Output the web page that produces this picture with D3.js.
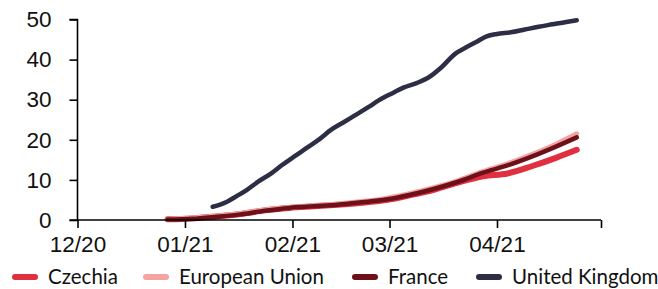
<!DOCTYPE html>
<html>
<head>
<meta charset="utf-8">
<script src="https://cdn.jsdelivr.net/npm/d3@7"></script>
<style>
  body { margin: 0; background: #fff; }
  svg { display: block; font-family: Lato, "Noto Sans", sans-serif; }
</style>
</head>
<body>
<svg width="658" height="289"></svg>
<script>
// dates shared by the three red series
var euDates = ["2020-12-27", "2021-01-03", "2021-01-10", "2021-01-17", "2021-01-24", "2021-01-31",
  "2021-02-07", "2021-02-14", "2021-02-21", "2021-02-28", "2021-03-07", "2021-03-14",
  "2021-03-21", "2021-03-28", "2021-04-04", "2021-04-11", "2021-04-18", "2021-04-24"];
var czechia = [0.2, 0.4, 0.9, 1.5, 2.4, 3.0, 3.4, 3.8, 4.3, 5.0, 6.2, 7.6, 9.4, 10.9, 11.6, 13.4, 15.5, 17.5];
var eu      = [0.2, 0.5, 1.0, 1.6, 2.5, 3.1, 3.6, 4.0, 4.6, 5.4, 6.6, 8.1, 9.9, 12.1, 14.0, 16.3, 18.9, 21.5];
var france  = [0.1, 0.3, 0.8, 1.4, 2.3, 3.0, 3.4, 3.8, 4.4, 5.1, 6.3, 7.8, 9.6, 11.8, 13.6, 15.8, 18.3, 20.6];

var ukDates = ["2021-01-09", "2021-01-13", "2021-01-16", "2021-01-19", "2021-01-22", "2021-01-26",
  "2021-01-29", "2021-02-02", "2021-02-05", "2021-02-09", "2021-02-12", "2021-02-16",
  "2021-02-19", "2021-02-23", "2021-02-26", "2021-03-02", "2021-03-05", "2021-03-09",
  "2021-03-12", "2021-03-16", "2021-03-20", "2021-03-23", "2021-03-26", "2021-03-29",
  "2021-04-01", "2021-04-05", "2021-04-09", "2021-04-13", "2021-04-17", "2021-04-21", "2021-04-24"];
var uk = [3.3, 4.5, 6.0, 7.6, 9.5, 11.7, 13.7, 16.1, 17.9, 20.3, 22.4, 24.5, 26.1, 28.2, 29.9,
  31.7, 33.0, 34.2, 35.4, 38.1, 41.5, 43.0, 44.4, 45.8, 46.4, 46.8, 47.5, 48.2, 48.8, 49.4, 49.8];

var seriesNames = ["Czechia", "European Union", "France", "United Kingdom"];
var colors = ["#e0303f", "#f4a3a3", "#6e1019", "#2b2e44"];
var yTicks = [0, 10, 20, 30, 40, 50];

var parse = d3.timeParse("%Y-%m-%d");
var series = [
  { name: seriesNames[0], dates: euDates, values: czechia, width: 6 },
  { name: seriesNames[1], dates: euDates, values: eu, width: 5 },
  { name: seriesNames[2], dates: euDates, values: france, width: 4.5 },
  { name: seriesNames[3], dates: ukDates, values: uk, width: 4.5 }
];
series.forEach(function(s, i) {
  s.color = colors[i];
  s.points = s.dates.map(function(d, j) { return { date: parse(d), value: s.values[j] }; });
});

var svg = d3.select("svg");
var x = d3.scaleTime()
    .domain([parse("2020-12-01"), parse("2021-05-01")])
    .range([77.5, 601]);
var y = d3.scaleLinear()
    .domain([0, 50])
    .range([220, 19.5]);

var line = d3.line()
    .x(function(d) { return x(d.date); })
    .y(function(d) { return y(d.value); })
    .curve(d3.curveMonotoneX);

svg.append("g")
    .selectAll("path")
    .data(series)
    .enter().append("path")
    .attr("fill", "none")
    .attr("stroke", function(d) { return d.color; })
    .attr("stroke-width", function(d) { return d.width; })
    .attr("stroke-linecap", "round")
    .attr("stroke-linejoin", "round")
    .attr("d", function(d) { return line(d.points); });

var yAxis = svg.append("g")
    .attr("transform", "translate(77.5,0)")
    .call(d3.axisLeft(y).tickValues(yTicks).tickSize(8).tickPadding(18));

var xAxis = svg.append("g")
    .attr("transform", "translate(0,220)")
    .call(d3.axisBottom(x).ticks(d3.timeMonth.every(1)).tickFormat(function(d) {
      // last tick has no label
      return +d === +x.domain()[1] ? "" : d3.timeFormat("%m/%y")(d);
    }).tickSize(8).tickPadding(8));

svg.selectAll(".domain, .tick line")
    .attr("stroke", "#000")
    .attr("stroke-width", 1.6);
yAxis.select(".domain").attr("d", "M-8,19.5H0V220H-8");
xAxis.select(".domain").attr("d", "M77.5,0H601");
svg.selectAll(".tick text")
    .attr("fill", "#111")
    .style("font-size", "22.5px");

// legend
var legendX = [12, 143, 352, 476];
var legend = svg.append("g")
    .selectAll("g")
    .data(series)
    .enter().append("g")
    .attr("transform", function(d, i) { return "translate(" + legendX[i] + ",277)"; });
legend.append("line")
    .attr("x1", 3).attr("x2", 23)
    .attr("stroke", function(d) { return d.color; })
    .attr("stroke-width", 6)
    .attr("stroke-linecap", "round");
legend.append("text")
    .attr("x", 36)
    .attr("dy", "0.35em")
    .style("font-size", "20.5px")
    .attr("fill", "#111")
    .text(function(d) { return d.name; });
</script>
</body>
</html>
